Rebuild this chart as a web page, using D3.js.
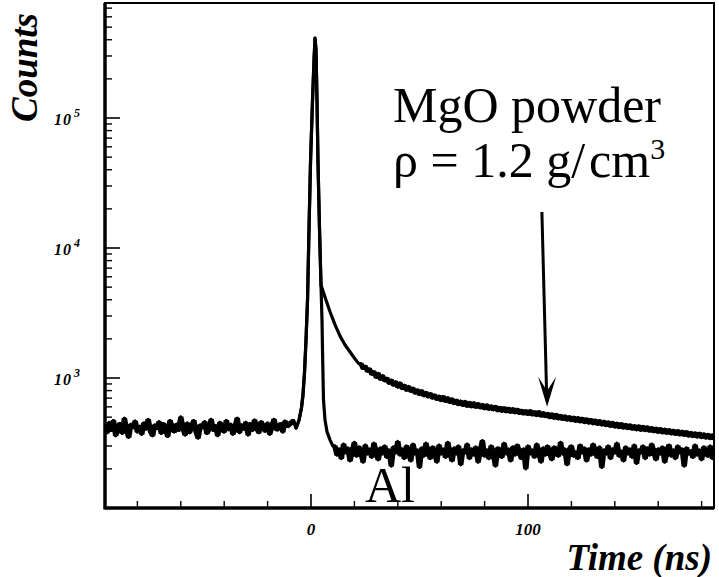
<!DOCTYPE html>
<html>
<head>
<meta charset="utf-8">
<script src="https://cdn.jsdelivr.net/npm/d3@7"></script>
<style>
	body { margin: 0; background: #fff; }
	svg { display: block; }
</style>
</head>
<body>
<div id="chart"></div>
<script>
//Axis ticks
var x_major_ticks = [0, 100];
var x_minor_ticks = [-80, -60, -40, -20, 20, 40, 60, 80, 120, 140, 160, 180];
var y_major_ticks = [1e3, 1e4, 1e5];
var y_tick_exponents = ["3", "4", "5"];

//Flat part before the prompt peak, same for both samples (one channel per ns from t0)
var pre_t0 = -95;
var pre_counts = [
	430,380,455,395,470,360,420,445,375,490,
	400,350,440,415,465,385,425,370,450,405,
	480,390,360,435,410,460,375,445,400,355,
	470,420,385,440,395,500,410,365,450,380,
	425,470,390,345,435,415,460,375,405,480,
	395,430,360,455,410,385,470,400,440,370,
	420,490,380,435,405,455,365,445,395,475,
	410,380,460,420,390,450,370,430,480,400,
	415,445,385,465,425,440,455,470];

//Prompt peak, shared by both curves
var peak_times  = [-6.9, -5.5, -4.4, -3.7, -3.0, -2.3, -1.6, -0.9, -0.2, 0.7, 1.4, 1.84, 2.3, 2.76, 3.2, 3.9, 4.6];
var peak_counts = [412, 475, 588, 740, 1093, 1960, 3980, 14500, 47500, 137000, 279000, 412000, 334000, 137000, 47500, 14500, 5190];

//MgO powder: slow component after the peak
var mgo_early_times  = [5.07, 6.9, 8.8, 11.1, 13.4, 15.7, 18.0, 20.3, 22.0];
var mgo_early_counts = [4920, 3980, 3220, 2560, 2100, 1795, 1585, 1400, 1290];
var mgo_tail_t0 = 23;
var mgo_tail_counts = [
	1290,1185,
	1230,1130,1175,1070,1120, 1010,1085,975,1040,950,
	995,910,965,880,935, 850,915,830,880,805,
	860,790,835,765,810, 745,800,730,775,715,
	760,700,740,685,725, 670,720,660,705,650,
	690,635,675,625,665, 615,660,605,650,600,
	645,595,635,590,625, 580,620,575,610,570,
	605,560,595,555,590, 550,585,545,580,540,
	575,535,565,530,560, 525,560,520,550,515,
	550,510,540,505,535, 495,530,490,525,485,
	515,480,510,475,505, 470,500,465,495,460,
	490,455,485,450,480, 445,475,440,470,435,
	465,430,460,425,455, 420,450,415,445,412,
	440,408,435,405,430, 400,428,396,425,394,
	420,390,415,386,412, 382,408,378,404,376,
	400,372,396,368,393, 365,390,362,386,358,
	382,355,378,352,376, 348,372,345,368,342,
	364,340];

//Al: fast return to background
var al_early_times  = [5.07, 5.3, 5.76, 6.45, 7.4, 8.8, 10.1];
var al_early_counts = [2790, 1642, 678, 475, 385, 333, 300];
var al_tail_t0 = 11;
var al_tail_counts = [
	300,255,285,240,310,265,290,230,275,320,
	250,295,270,225,305,260,285,245,315,270,
	235,290,260,300,245,280,210,295,265,325,
	255,285,240,300,270,230,310,260,280,205,
	290,250,315,265,240,295,275,225,305,260,
	285,245,320,270,230,290,260,300,215,280,
	265,310,240,285,255,295,225,275,330,250,
	280,240,300,265,210,290,270,245,315,260,
	285,230,295,255,305,270,240,285,200,300,
	260,280,245,310,270,225,290,255,300,265,
	235,295,275,250,320,260,285,215,280,300,
	250,270,240,305,265,290,230,285,255,310,
	270,245,295,205,280,260,300,240,285,265,
	315,250,275,230,295,260,285,245,305,220,
	280,265,300,240,290,255,310,270,235,285,
	260,295,225,275,305,250,280,240,300,265,
	285,210,290,260,275,245,305,255,280,235,
	295,270,250,300,240,285];

//Arrow pointing at the MgO curve (data coordinates: ns, counts)
var arrow_from = [106.4, 18900];
var arrow_to = [108.8, 600];

var width = 719, height = 577;
var plot = {left: 105, right: 714, top: 3, bottom: 508};
var serif = "Liberation Serif";

var svg = d3.select("#chart")
	.append("svg")
		.attr("width", width)
		.attr("height", height);

var x = d3.scaleLinear()
	.domain([-94.93, 185.71])
	.range([plot.left, plot.right]);

var y = d3.scaleLog()
	.domain([100, 766700])
	.range([plot.bottom, plot.top]);

function stepped(t0, counts)
{
	return counts.map(function(c, i){ return [t0 + i, c]; });
}

function paired(times, counts)
{
	return times.map(function(t, i){ return [t, counts[i]]; });
}

var pre = stepped(pre_t0, pre_counts);
var peak = paired(peak_times, peak_counts);
var mgo_tail = stepped(mgo_tail_t0, mgo_tail_counts);
var al_tail = stepped(al_tail_t0, al_tail_counts);

//whole curves
var mgo = [].concat(pre, peak, paired(mgo_early_times, mgo_early_counts), mgo_tail);
var al = [].concat(pre, peak, paired(al_early_times, al_early_counts), al_tail);

svg.append("clipPath")
	.attr("id", "plot_clip")
	.append("rect")
		.attr("x", plot.left)
		.attr("y", plot.top)
		.attr("width", plot.right - plot.left)
		.attr("height", plot.bottom - plot.top);

var line = d3.line()
	.x(function(d){ return x(d[0]); })
	.y(function(d){ return y(d[1]); });

var curves = svg.append("g")
	.attr("clip-path", "url(#plot_clip)");

[al, mgo].forEach(function(series)
	{
		curves.append("path")
			.datum(series)
			.attr("d", line)
			.attr("fill", "none")
			.attr("stroke", "#000")
			.attr("stroke-width", 3.2)
			.attr("stroke-linejoin", "round");
	}
);

//the noisy stretches are printed as a thick band, go over them again
[[pre, 5.4], [al_tail, 5.4], [mgo_tail, 5]].forEach(function(item)
	{
		curves.append("path")
			.datum(item[0])
			.attr("d", line)
			.attr("fill", "none")
			.attr("stroke", "#000")
			.attr("stroke-width", item[1])
			.attr("stroke-linejoin", "bevel");
	}
);

//frame
svg.append("rect")
	.attr("x", plot.left)
	.attr("y", plot.top)
	.attr("width", plot.right - plot.left)
	.attr("height", plot.bottom - plot.top)
	.attr("fill", "none")
	.attr("stroke", "#000")
	.attr("stroke-width", 2);

//thicker left and bottom spines
svg.append("line")
	.attr("x1", plot.left).attr("x2", plot.left)
	.attr("y1", plot.top).attr("y2", plot.bottom + 1.5)
	.attr("stroke", "#000").attr("stroke-width", 3.5);
svg.append("line")
	.attr("x1", plot.left).attr("x2", plot.right)
	.attr("y1", plot.bottom).attr("y2", plot.bottom)
	.attr("stroke", "#000").attr("stroke-width", 3.5);

//y ticks (inward)
var y_minor_ticks = [];
[100, 1000, 10000, 100000].forEach(function(dec)
	{
		for (var k = 2; k <= 9; k++)
		{
			var v = dec * k;
			if (v < y.domain()[1]) y_minor_ticks.push(v);
		}
	}
);

svg.append("g")
	.selectAll("line")
	.data(y_minor_ticks)
	.enter()
		.append("line")
			.attr("x1", plot.left)
			.attr("x2", plot.left + 7)
			.attr("y1", function(d){ return y(d); })
			.attr("y2", function(d){ return y(d); })
			.attr("stroke", "#000")
			.attr("stroke-width", 1.4);

svg.append("g")
	.selectAll("line")
	.data(y_major_ticks)
	.enter()
		.append("line")
			.attr("x1", plot.left)
			.attr("x2", plot.left + 15)
			.attr("y1", function(d){ return y(d); })
			.attr("y2", function(d){ return y(d); })
			.attr("stroke", "#000")
			.attr("stroke-width", 1.6);

var y_labels = svg.append("g")
	.attr("font-family", serif)
	.attr("font-weight", "bold")
	.attr("font-style", "italic");

y_labels.selectAll("text.base")
	.data(y_major_ticks)
	.enter()
		.append("text")
			.attr("x", 72)
			.attr("y", function(d){ return y(d) + 7; })
			.attr("text-anchor", "end")
			.attr("font-size", 16)
			.attr("letter-spacing", 1)
			.text("10");

y_labels.selectAll("text.exp")
	.data(y_major_ticks)
	.enter()
		.append("text")
			.attr("x", 74)
			.attr("y", function(d){ return y(d) - 1; })
			.attr("font-size", 12)
			.text(function(d, i){ return y_tick_exponents[i]; });

//x ticks (pointing up)
svg.append("g")
	.selectAll("line")
	.data(x_minor_ticks)
	.enter()
		.append("line")
			.attr("x1", function(d){ return x(d); })
			.attr("x2", function(d){ return x(d); })
			.attr("y1", plot.bottom)
			.attr("y2", plot.bottom - 7)
			.attr("stroke", "#000")
			.attr("stroke-width", 1.4);

svg.append("g")
	.selectAll("line")
	.data(x_major_ticks)
	.enter()
		.append("line")
			.attr("x1", function(d){ return x(d); })
			.attr("x2", function(d){ return x(d); })
			.attr("y1", plot.bottom)
			.attr("y2", plot.bottom - 14)
			.attr("stroke", "#000")
			.attr("stroke-width", 1.6);

svg.append("g")
	.selectAll("text")
	.data(x_major_ticks)
	.enter()
		.append("text")
			.attr("x", function(d){ return x(d); })
			.attr("y", 535)
			.attr("text-anchor", "middle")
			.attr("font-family", serif)
			.attr("font-weight", "bold")
			.attr("font-style", "italic")
			.attr("font-size", 17)
			.text(function(d){ return d; });

//axis titles
svg.append("text")
	.attr("transform", "translate(37,122) rotate(-90)")
	.attr("font-family", serif)
	.attr("font-weight", "bold")
	.attr("font-style", "italic")
	.attr("font-size", 37)
	.text("Counts");

svg.append("text")
	.attr("x", 712)
	.attr("y", 570)
	.attr("text-anchor", "end")
	.attr("font-family", serif)
	.attr("font-weight", "bold")
	.attr("font-style", "italic")
	.attr("font-size", 37)
	.text("Time (ns)");

//annotations
var note = svg.append("g")
	.attr("font-family", serif)
	.attr("font-size", 50);

note.append("text")
	.attr("x", 393)
	.attr("y", 122)
	.text("MgO powder");

var rho = note.append("text")
	.attr("x", 393)
	.attr("y", 177);
rho.append("tspan").text("\u03c1 = 1.2 g/");
rho.append("tspan")
	.attr("dx", 4)
	.text("cm");
rho.append("tspan")
	.attr("dy", -18)
	.attr("font-size", 30)
	.text("3");

note.append("text")
	.attr("x", 365)
	.attr("y", 502)
	.text("Al");

//arrow
var ax0 = x(arrow_from[0]), ay0 = y(arrow_from[1]);
var ax1 = x(arrow_to[0]), ay1 = y(arrow_to[1]);

svg.append("line")
	.attr("x1", ax0).attr("y1", ay0)
	.attr("x2", ax1 - 0.5).attr("y2", ay1 - 14)
	.attr("stroke", "#000")
	.attr("stroke-width", 3);

svg.append("path")
	.attr("d", "M" + ax1 + "," + ay1 +
		" L" + (ax1 + 9) + "," + (ay1 - 30) +
		" L" + ax1 + "," + (ay1 - 16) +
		" L" + (ax1 - 9) + "," + (ay1 - 30) + " Z")
	.attr("fill", "#000");
</script>
</body>
</html>
